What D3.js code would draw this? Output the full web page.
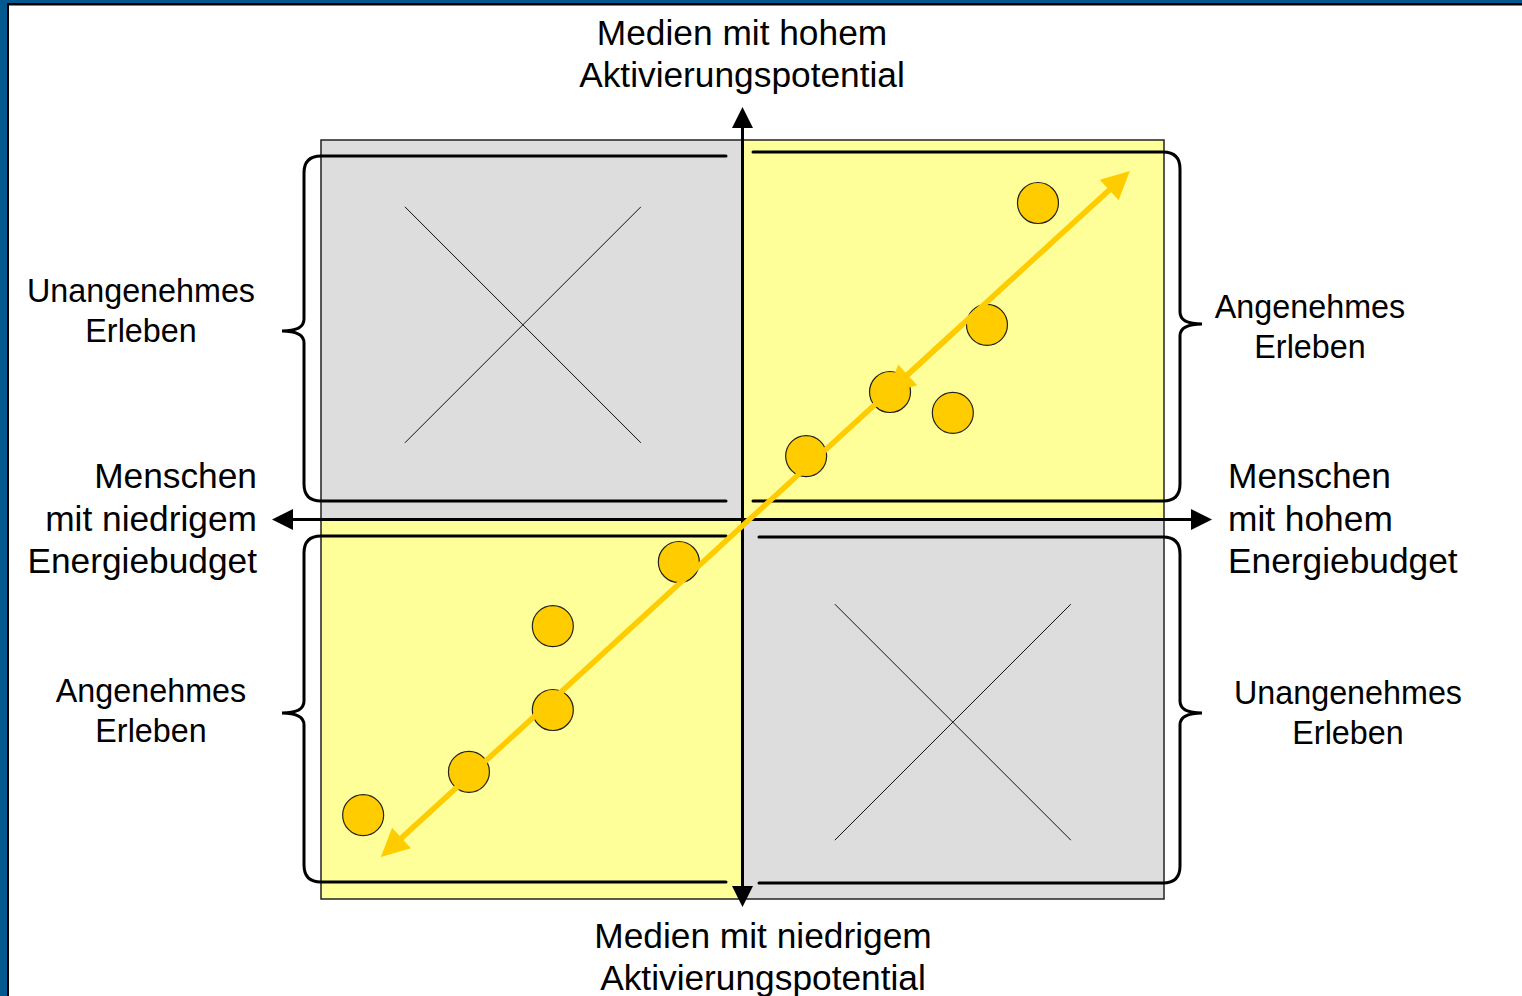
<!DOCTYPE html>
<html>
<head>
<meta charset="utf-8">
<script src="https://cdn.jsdelivr.net/npm/d3@7/dist/d3.min.js"></script>
<style>
  body{margin:0;background:#fff;overflow:hidden;}
  text{font-family:"Liberation Sans",Arial,sans-serif;fill:#000;}
</style>
</head>
<body>
<script>
// media (dots): x = energy budget of people, y = activation potential of media
var dotX=[0.701,0.580,0.350,0.499,0.151,-0.151,-0.450,-0.450,-0.649,-0.900];
var dotY=[0.834,0.513,0.336,0.281,0.167,-0.112,-0.281,-0.502,-0.665,-0.779];

// the big double arrow and the small head sitting on it
var trendX=[-0.858,0.919];
var trendY=[-0.889,0.918];
var innerX=[0.521,0.343];
var innerY=[0.513,0.331];

var quadrants=[ // sx,sy = sign of quadrant; fill kind; cross centre for grey ones
  {sx:-1,sy:1,kind:'bad',cx:-0.521,cy:0.513},{sx:1,sy:1,kind:'good'},
  {sx:-1,sy:-1,kind:'good'},{sx:1,sy:-1,kind:'bad',cx:0.499,cy:-0.534}];

var axisTop=['Medien mit hohem','Aktivierungspotential'];
var axisBottom=['Medien mit niedrigem','Aktivierungspotential'];
var axisLeft=['Menschen','mit niedrigem','Energiebudget'];
var axisRight=['Menschen','mit hohem','Energiebudget'];
var goodLabel=['Angenehmes','Erleben'];
var badLabel=['Unangenehmes','Erleben'];

var W=1522,H=996;
var svg=d3.select('body').append('svg').attr('width',W).attr('height',H);

// frame
svg.append('rect').attr('x',0).attr('y',0).attr('width',W).attr('height',H).attr('fill','#03598f');
svg.append('rect').attr('x',7).attr('y',3).attr('width',W).attr('height',H).attr('fill','#000');
svg.append('rect').attr('x',9).attr('y',5.5).attr('width',W).attr('height',H).attr('fill','#fff');

var x=d3.scaleLinear().domain([-1,1]).range([321,1164]);
var y=d3.scaleLinear().domain([-1,1]).range([899,140]);

var colors={good:'#ffff99',bad:'#dddddd'};

// quadrant boxes
svg.selectAll('rect.q').data(quadrants).enter().append('rect')
  .attr('class','q')
  .attr('x',function(d){return d.sx<0?x(-1):x(0);})
  .attr('y',function(d){return d.sy>0?y(1):y(0);})
  .attr('width',function(d){return x(1)-x(0);})
  .attr('height',function(d){return y(0)-y(1);})
  .attr('fill',function(d){return colors[d.kind];})
  .attr('stroke','#222').attr('stroke-width',1.5);

// crosses in the grey quadrants
quadrants.filter(function(d){return d.kind=='bad';}).forEach(function(d){
  var cx=x(d.cx), cy=y(d.cy), hx=x(0.28)-x(0), hy=y(0)-y(0.311);
  svg.append('path')
    .attr('d','M'+(cx-hx)+','+(cy-hy)+'L'+(cx+hx)+','+(cy+hy)+'M'+(cx+hx)+','+(cy-hy)+'L'+(cx-hx)+','+(cy+hy))
    .attr('stroke','#111').attr('stroke-width',1).attr('fill','none');
});

// braces with arms
function brace(side,top,bot,armEnd,tipY){
  var s=side, vx=s<0?304:1180, tx=vx+s*22, r=17, c=12;
  var p='M'+armEnd+','+top+'L'+(vx-s*r)+','+top
    +'Q'+vx+','+top+' '+vx+','+(top+r)
    +'L'+vx+','+(tipY-c)
    +'Q'+vx+','+tipY+' '+tx+','+tipY
    +'Q'+vx+','+tipY+' '+vx+','+(tipY+c)
    +'L'+vx+','+(bot-r)
    +'Q'+vx+','+bot+' '+(vx-s*r)+','+bot
    +'L'+armEnd+','+bot;
  svg.append('path').attr('d',p).attr('fill','none').attr('stroke','#000')
    .attr('stroke-width',3).attr('stroke-linecap','round');
}
brace(-1,156,501,726,331);
brace(1,152,501,753,324);
brace(-1,536,882,726,713);
brace(1,537,883,759,713);

// axes with arrowheads
var ax=svg.append('g');
ax.append('line').attr('x1',x(-1)-30).attr('x2',x(1)+30).attr('y1',y(0)).attr('y2',y(0))
  .attr('stroke','#000').attr('stroke-width',3);
ax.append('line').attr('x1',x(0)).attr('x2',x(0)).attr('y1',y(1)-20).attr('y2',y(-1))
  .attr('stroke','#000').attr('stroke-width',3);
function tri(tx,ty,dx,dy,len,half,col){
  var bx=tx-dx*len, by=ty-dy*len;
  return svg.append('path').attr('d','M'+tx+','+ty+'L'+(bx-dy*half)+','+(by+dx*half)
    +'L'+(bx+dy*half)+','+(by-dx*half)+'Z').attr('fill',col);
}
tri(x(-1)-49,y(0),-1,0,21,10.5,'#000');
tri(x(1)+48,y(0),1,0,21,10.5,'#000');
tri(x(0),y(1)-33,0,-1,21,10.5,'#000');
tri(x(0),y(-1)+8,0,1,21,10.5,'#000');

var orange='#ffcc00';

// dots
svg.selectAll('circle.m').data(dotX).enter().append('circle')
  .attr('class','m')
  .attr('cx',function(d){return x(d);})
  .attr('cy',function(d,i){return y(dotY[i]);})
  .attr('r',20.5)
  .attr('fill',orange).attr('stroke','#222').attr('stroke-width',1.2);

// trend arrows, drawn over the dots
function arrow(xs,ys,both){
  var x1=x(xs[0]),y1=y(ys[0]),x2=x(xs[1]),y2=y(ys[1]);
  var L=Math.hypot(x2-x1,y2-y1), ux=(x2-x1)/L, uy=(y2-y1)/L;
  svg.append('line').attr('x1',x1+(both?ux*20:0)).attr('y1',y1+(both?uy*20:0))
    .attr('x2',x2-ux*20).attr('y2',y2-uy*20)
    .attr('stroke',orange).attr('stroke-width',5.5);
  tri(x2,y2,ux,uy,28,14,orange);
  if(both) tri(x1,y1,-ux,-uy,28,14,orange);
}
arrow(trendX,trendY,true);
arrow(innerX,innerY,false);

// labels
function label(lines,tx,ty,anchor,size,gap){
  var t=svg.append('text').attr('text-anchor',anchor).style('font-size',size+'px');
  lines.forEach(function(l,i){
    t.append('tspan').attr('x',tx).attr('y',ty+i*gap).text(l);
  });
}
label(axisTop,742,45,'middle',35.3,42);
label(axisBottom,763,948,'middle',35.3,42);
label(axisLeft,257,488,'end',35.3,42.5);
label(axisRight,1228,488,'start',35.3,42.5);
label(badLabel,141,302,'middle',32.3,40);
label(goodLabel,1310,318,'middle',32.3,40);
label(goodLabel,151,702,'middle',32.3,40);
label(badLabel,1348,704,'middle',32.3,40);
</script>
</body>
</html>
